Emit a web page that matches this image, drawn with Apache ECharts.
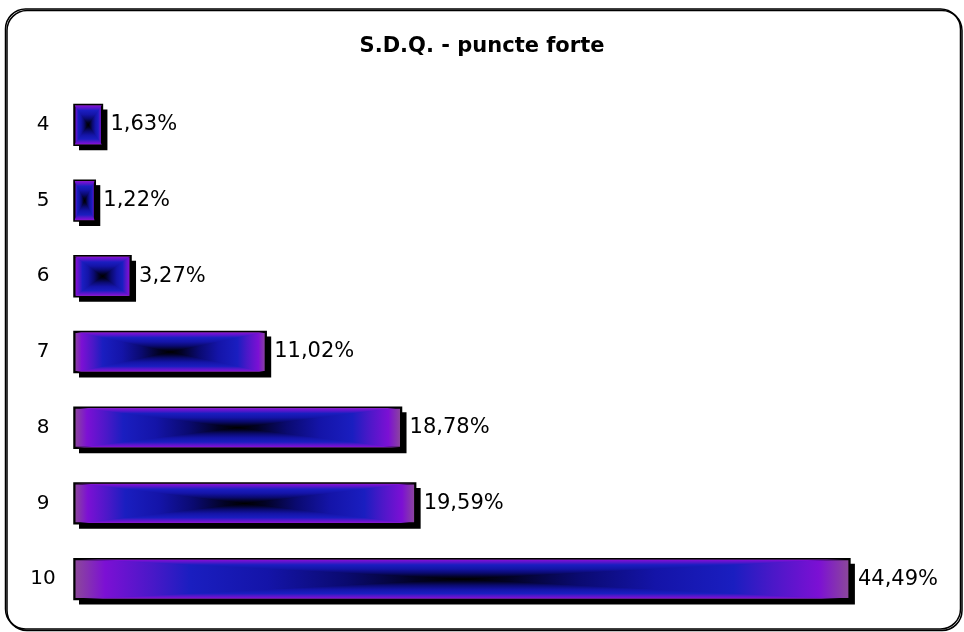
<!DOCTYPE html>
<html>
<head>
<meta charset="utf-8">
<script src="https://cdn.jsdelivr.net/npm/echarts@6/dist/echarts.min.js"></script>
<style>
html,body{margin:0;padding:0;background:#fff;}
#chart{width:964px;height:632px;}
</style>
</head>
<body>
<div id="chart"></div>
<script>
const titleText = 'S.D.Q. - puncte forte';
const categories = ['4', '5', '6', '7', '8', '9', '10'];
const values = [1.63, 1.22, 3.27, 11.02, 18.78, 19.59, 44.49];

// gradient stops from edge (0) to centre (1) of each bar
const edgeToCenter = [
  [0.00, '#8c4a98'],
  [0.08, '#7c10d4'],
  [0.20, '#4a18c8'],
  [0.30, '#1a1ec0'],
  [0.50, '#1414a8'],
  [0.70, '#0a0a70'],
  [0.88, '#020225'],
  [1.00, '#000000']
];

function linear(x, y, x2, y2, stops) {
  return new echarts.graphic.LinearGradient(x, y, x2, y2,
    stops.map(s => ({ offset: s[0], color: s[1] })));
}
const mirrored = [];
edgeToCenter.forEach(s => mirrored.push([s[0] / 2, s[1]]));
edgeToCenter.slice().reverse().forEach(s => mirrored.push([1 - s[0] / 2, s[1]]));

const BAR_RATIO = 0.54;
const SHADOW = 5;

function barGeom(api) {
  const v = api.value(0), i = api.value(1);
  const s = api.coord([0, i]);
  const e = api.coord([v, i]);
  const h = api.size([0, 1])[1] * BAR_RATIO;
  return { x0: s[0], x1: e[0], yc: s[1], y0: s[1] - h / 2, y1: s[1] + h / 2, h: h };
}

const FONT = 'DejaVu Sans';

const chart = echarts.init(document.getElementById('chart'));
chart.setOption({
  animation: false,
  backgroundColor: '#ffffff',
  title: {
    text: titleText,
    left: 'center',
    top: 31,
    textStyle: { fontFamily: FONT, fontSize: 21, fontWeight: 'bold', color: '#000' }
  },
  grid: { left: 74, right: 18, top: 87, bottom: 15 },
  xAxis: { type: 'value', min: 0, max: 50, show: false },
  yAxis: {
    type: 'category',
    data: categories,
    inverse: true,
    axisLine: { show: false },
    axisTick: { show: false },
    axisLabel: { align: 'center', margin: 31, fontFamily: FONT, fontSize: 20, color: '#000' }
  },
  graphic: [{
    type: 'rect',
    shape: { x: 5.5, y: 9, width: 955, height: 620, r: 20 },
    style: { fill: null, stroke: '#000', lineWidth: 1.5, shadowColor: '#000', shadowOffsetX: 1.5, shadowOffsetY: 1.5, shadowBlur: 0 },
    z: -1
  }],
  series: [{
    // drop shadow of each bar
    type: 'custom',
    data: values.map((v, i) => [v, i]),
    encode: { x: 0, y: 1 },
    silent: true,
    z: 1,
    renderItem: function (params, api) {
      const g = barGeom(api);
      return {
        type: 'rect',
        shape: { x: g.x0 + SHADOW, y: g.y0 + SHADOW, width: g.x1 - g.x0, height: g.h },
        style: { fill: '#000' }
      };
    }
  }, {
    type: 'bar',
    data: values,
    barWidth: (BAR_RATIO * 100) + '%',
    itemStyle: {
      color: linear(0, 0, 1, 0, mirrored),
      borderColor: '#000',
      borderWidth: 1.5
    },
    label: {
      show: true,
      position: 'right',
      distance: 8,
      fontFamily: FONT,
      fontSize: 21,
      color: '#000',
      formatter: p => p.value.toFixed(2).replace('.', ',') + '%'
    },
    z: 2
  }, {
    // top / bottom parts of the rectangular "from centre" gradient
    type: 'custom',
    data: values.map((v, i) => [v, i]),
    encode: { x: 0, y: 1 },
    silent: true,
    z: 3,
    renderItem: function (params, api) {
      const g = barGeom(api);
      const cx = (g.x0 + g.x1) / 2;
      return {
        type: 'group',
        children: [{
          type: 'polygon',
          shape: { points: [[g.x0, g.y0], [g.x1, g.y0], [cx, g.yc]] },
          style: { fill: linear(0, 0, 0, 1, edgeToCenter) }
        }, {
          type: 'polygon',
          shape: { points: [[g.x0, g.y1], [g.x1, g.y1], [cx, g.yc]] },
          style: { fill: linear(0, 1, 0, 0, edgeToCenter) }
        }, {
          type: 'rect',
          shape: { x: g.x0, y: g.y0, width: g.x1 - g.x0, height: g.h },
          style: { fill: null, stroke: '#000', lineWidth: 1.5 }
        }]
      };
    }
  }]
});
</script>
</body>
</html>
